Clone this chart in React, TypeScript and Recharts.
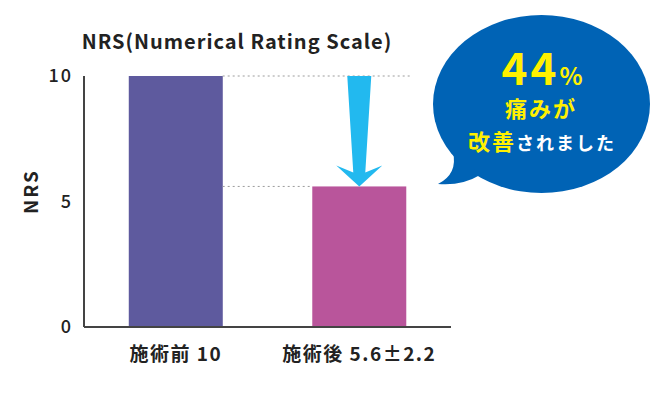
import React from 'react';
import { Bar, BarChart, XAxis, YAxis } from 'recharts';

// NRS before / after treatment
const categories = ['施術前', '施術後'];
const scores = [10, 5.6];
const deviations = [null, 2.2];
const yTicks = [0, 5, 10];
const barColours = ['#5E5A9E', '#B9559B'];

const data = categories.map((name, i) => ({ name, score: scores[i], sd: deviations[i] }));
const improvement = Math.round(((scores[0] - scores[1]) / scores[0]) * 100);

const FONT = "'Noto Sans CJK JP', 'Noto Sans', sans-serif";
const GAP = 0.244; // barCategoryGap as a fraction of the band
const ARROW = '#22B9EF';
const DOTS = '#9C9C9C';

// bar 2 also draws the guide lines and the arrow coming down from bar 1's level
const ScoreBar = (props: any) => {
  const { x, y, width, height, index, payload } = props;
  const fill = barColours[index];
  if (index === 0) return <rect x={x} y={y} width={width} height={height} fill={fill} />;

  const base = y + height;
  const yBefore = base - (height / payload.score) * scores[0];
  const band = width / (1 - 2 * GAP);
  const prevRight = x - (band - width);
  const cx = x + width / 2;
  const arrow = [
    [cx - 12, yBefore],
    [cx + 12, yBefore],
    [cx + 6, y - 14],
    [cx + 23, y - 21],
    [cx, y],
    [cx - 23, y - 21],
    [cx - 6, y - 14],
  ]
    .map((p) => p.join(','))
    .join(' ');

  return (
    <g>
      <line x1={prevRight} y1={yBefore} x2={x + width + 4} y2={yBefore} stroke={DOTS} strokeDasharray="2 3" />
      <line x1={prevRight} y1={y} x2={x} y2={y} stroke={DOTS} strokeDasharray="2 3" />
      <rect x={x} y={y} width={width} height={height} fill={fill} />
      <polygon points={arrow} fill={ARROW} />
    </g>
  );
};

const AxisTitle = ({ viewBox }: any) => {
  const tx = viewBox.x + 29;
  const ty = viewBox.y + viewBox.height / 2 - 10;
  return (
    <text
      x={tx}
      y={ty}
      transform={`rotate(-90, ${tx}, ${ty})`}
      textAnchor="middle"
      dominantBaseline="central"
      fontSize={19}
      fontWeight={700}
      letterSpacing={2}
      fontFamily={FONT}
      fill="#222"
    >
      NRS
    </text>
  );
};

const formatCategory = (name: string, i: number) =>
  `${name} ${scores[i]}${deviations[i] != null ? `±${deviations[i]}` : ''}`;

const App: React.FC = () => (
  <div style={{ position: 'absolute', left: 0, top: 0, width: 665, height: 396, background: '#fff' }}>
    <BarChart
      width={665}
      height={396}
      data={data}
      margin={{ top: 76, right: 214, bottom: 29, left: 0 }}
      barCategoryGap={`${GAP * 100}%`}
    >
      <XAxis
        dataKey="name"
        height={40}
        interval={0}
        tickFormatter={formatCategory}
        axisLine={{ stroke: '#444', strokeWidth: 2 }}
        tickLine={false}
        tickSize={0}
        tickMargin={21}
        tick={{ fill: '#222', fontSize: 19, fontWeight: 700, fontFamily: FONT, letterSpacing: 1.5 }}
      />
      <YAxis
        domain={[0, 10]}
        ticks={yTicks}
        width={84}
        axisLine={{ stroke: '#444', strokeWidth: 2 }}
        tickLine={false}
        tickSize={0}
        tickMargin={11}
        tick={{ fill: '#222', fontSize: 18, fontWeight: 500, fontFamily: FONT, letterSpacing: 2 }}
        label={{ content: AxisTitle }}
      />
      <Bar dataKey="score" shape={ScoreBar} isAnimationActive={false} />
    </BarChart>

    <svg width={665} height={396} style={{ position: 'absolute', left: 0, top: 0, pointerEvents: 'none' }}>
      <text
        x={237}
        y={49}
        textAnchor="middle"
        fontSize={20}
        fontWeight={700}
        letterSpacing={1}
        fontFamily={FONT}
        fill="#222"
      >
        NRS(Numerical Rating Scale)
      </text>

      {/* speech bubble */}
      <ellipse cx={541.5} cy={104} rx={108.5} ry={89} fill="#0063B5" />
      <path d="M 453 152 Q 458 174 438 184 Q 462 186 480 175 Z" fill="#0063B5" />
      <text x={542} y={85} textAnchor="middle" fontFamily={FONT} fontWeight={700} fill="#FFF000">
        <tspan fontSize={44} letterSpacing={3}>{improvement}</tspan>
        <tspan fontSize={24}>%</tspan>
      </text>
      <text
        x={541}
        y={117}
        textAnchor="middle"
        fontFamily={FONT}
        fontWeight={700}
        fontSize={22}
        letterSpacing={2}
        fill="#FFF000"
      >
        痛みが
      </text>
      <text x={542} y={150} textAnchor="middle" fontFamily={FONT} fontWeight={700} letterSpacing={2}>
        <tspan fontSize={22} fill="#FFF000">改善</tspan>
        <tspan fontSize={18} fill="#fff">されました</tspan>
      </text>
    </svg>
  </div>
);

export default App;
